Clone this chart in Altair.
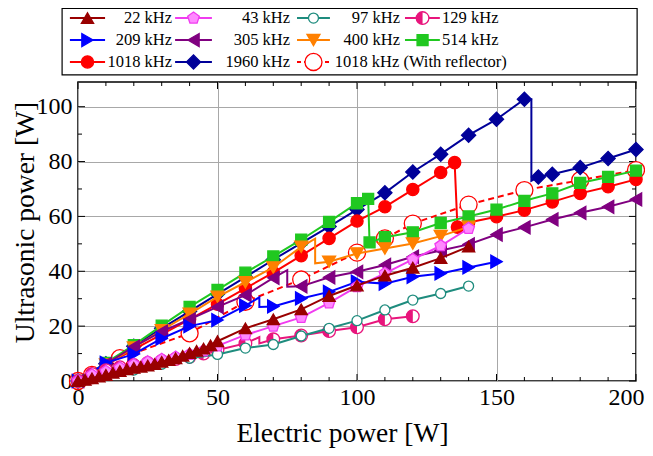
import altair as alt
import pandas as pd

# ---------------- data ----------------
names = ["22 kHz", "43 kHz", "97 kHz", "129 kHz", "209 kHz", "305 kHz",
         "400 kHz", "514 kHz", "1018 kHz", "1960 kHz", "1018 kHz (With reflector)"]

w22 = [0, 2.5, 5, 7.5, 10, 12.5, 15, 17.5, 20, 22.5, 25, 27.5, 30, 32.5, 35, 37.5, 40, 42.5,
       45, 47.5, 50, 60, 70, 80, 90, 100, 110, 120, 130, 140]
p22 = [0, 0.4, 1.0, 1.6, 2.2, 3.0, 3.6, 4.3, 4.8, 5.2, 5.6, 6.2, 7.0, 7.6, 8.3, 9.2, 10.2, 11.0,
       11.8, 13.0, 14.5, 19.2, 22.5, 26.1, 31.0, 34.8, 38.4, 41.3, 44.8, 49.0]
j22 = []

w43 = [0, 5, 10, 15, 20, 25, 30, 35, 40, 45, 50, 60, 70, 80, 90, 100, 110, 120, 130, 140]
p43 = [0, 2.2, 3.5, 4.8, 6.0, 7.0, 7.9, 8.7, 9.7, 11.0, 12.8, 16.8, 20.0, 23.2, 28.5, 34.4,
       39.2, 44.3, 49.3, 55.6]
j43 = []

w97 = [0, 10, 20, 30, 40, 50, 60, 70, 80, 90, 100, 110, 120, 130, 140]
p97 = [0, 2.2, 4.0, 6.1, 8.3, 9.7, 12.0, 13.3, 16.4, 19.2, 22.0, 25.9, 29.5, 31.9, 34.6]
j97 = []

w129 = [0, 5, 10, 15, 20, 25, 30, 35, 40, 45, 50, 60, 65, 65, 70, 80, 90, 100, 110, 120]
p129 = [0, 2.6, 3.9, 5.0, 5.8, 6.6, 7.3, 8.0, 8.8, 10.0, 11.3, 13.7, 16.0, 13.7, 15.2, 16.6,
        18.2, 19.6, 22.5, 23.6]
j129 = [12, 13]

w209 = [0, 10, 20, 30, 40, 50, 60, 65, 65, 70, 80, 90, 100, 110, 120, 130, 140, 150]
p209 = [0, 6.6, 9.8, 15.5, 20.0, 22.2, 27.5, 30.5, 27.0, 27.2, 30.1, 32.5, 36.2, 35.5, 38.0,
        39.2, 41.4, 43.5]
j209 = [7, 8]

w305 = [0, 10, 20, 30, 40, 50, 60, 70, 75, 75, 80, 90, 100, 110, 120, 130, 140, 150, 160,
        170, 180, 190, 200]
p305 = [0, 6.2, 12.5, 18.0, 22.5, 27.0, 31.3, 37.6, 40.4, 34.4, 34.5, 37.8, 39.8, 42.3, 45.3,
        47.6, 49.8, 53.4, 56.0, 58.9, 61.3, 63.5, 66.2]
j305 = [8, 9]

w400 = [0, 10, 20, 30, 40, 50, 60, 70, 80, 85, 85, 90, 100, 110, 120, 130, 140]
p400 = [0, 6.0, 12.2, 18.5, 24.5, 30.7, 36.0, 41.4, 48.9, 51.9, 42.9, 43.5, 46.5, 48.3, 50.1,
        52.8, 56.2]
j400 = [9, 10]

w514 = [0, 10, 20, 30, 40, 50, 60, 70, 80, 90, 100, 104, 104.5, 110, 120, 130, 140, 150, 160,
        170, 180, 190, 200]
p514 = [0, 6.6, 13.1, 20.2, 27.0, 33.2, 39.5, 45.4, 51.5, 58.0, 64.8, 66.4, 50.5, 52.4, 54.2,
        57.6, 60.0, 62.5, 65.7, 68.4, 72.2, 74.4, 76.7]
j514 = []

w1018 = [0, 10, 20, 30, 40, 50, 60, 70, 80, 90, 100, 110, 120, 130, 135, 136, 140, 150, 160,
         170, 180, 190, 200]
p1018 = [0, 5.8, 11.5, 17.0, 22.5, 28.0, 33.8, 39.5, 45.7, 52.0, 58.3, 63.5, 69.8, 76.0, 79.6,
         56.1, 57.8, 59.9, 62.3, 65.3, 68.4, 70.8, 73.5]
j1018 = []

w1960 = [0, 10, 20, 30, 40, 50, 60, 70, 80, 90, 100, 110, 120, 130, 140, 150, 160, 162.5,
         162.5, 165, 170, 180, 190, 200]
p1960 = [0, 6.3, 12.7, 19.2, 25.4, 31.7, 37.9, 44.2, 50.3, 56.3, 62.5, 68.6, 76.2, 82.7, 89.6,
         95.4, 102.7, 102.7, 73.0, 74.4, 75.4, 77.8, 81.1, 84.4]
j1960 = [17, 18]

wref = [0, 5, 15, 40, 60, 80, 100, 110, 120, 140, 160, 180, 200]
pref = [0, 2.2, 8.3, 17.4, 28.9, 37.0, 46.8, 52.0, 57.4, 64.3, 69.6, 73.2, 76.9]
jref = []

# axis ticks
x_major = [0, 50, 100, 150, 200]
x_minor = [10, 20, 30, 40, 60, 70, 80, 90, 110, 120, 130, 140, 160, 170, 180, 190]
y_major = [0, 20, 40, 60, 80, 100]
y_minor = [10, 30, 50, 70, 90]

# legend layout (in data units of the chart scales, legend sits above the plot)
leg_rows = [132.3, 124.3, 116.3]
leg_sym = [(-2.9, 9.7, 3.4), (34.8, 48.0, 41.4), (78.5, 90.3, 84.4), (117.2, 129.7, 123.5)]
leg_lab = [(33.7, "right"), (76.0, "right"), (115.4, "right"), (130.5, "left")]
leg_box = (-5.7, 200.4, 111.6, 135.8)

# ---------------- styles ----------------
FONT = "Liberation Serif"
W_PX, H_PX = 558, 299
PENTAGON = "M0,-1L0.951,-0.309L0.588,0.809L-0.588,0.809L-0.951,-0.309Z"
HALF = "M0,-1A1,1 0 0 0 0,1Z"

style = {
    "22 kHz":   dict(w=w22, p=p22, j=j22, c="#990000", shape="triangle-up", fill="#990000", size=150, cell=(0, 0)),
    "43 kHz":   dict(w=w43, p=p43, j=j43, c="#F03CF0", shape=PENTAGON, fill="#FF88FF", size=150, cell=(1, 0)),
    "97 kHz":   dict(w=w97, p=p97, j=j97, c="#1E8C7E", shape="circle", fill="white", size=100, cell=(2, 0)),
    "129 kHz":  dict(w=w129, p=p129, j=j129, c="#E8157C", shape="circle", fill="white", size=160, cell=(3, 0), half=True),
    "209 kHz":  dict(w=w209, p=p209, j=j209, c="#0000FF", shape="triangle-right", fill="#0000FF", size=170, cell=(0, 1)),
    "305 kHz":  dict(w=w305, p=p305, j=j305, c="#800080", shape="triangle-left", fill="#800080", size=170, cell=(1, 1)),
    "400 kHz":  dict(w=w400, p=p400, j=j400, c="#FF8000", shape="triangle-down", fill="#FF8000", size=170, cell=(2, 1)),
    "514 kHz":  dict(w=w514, p=p514, j=j514, c="#20C820", shape="square", fill="#20C820", size=121, cell=(3, 1)),
    "1018 kHz": dict(w=w1018, p=p1018, j=j1018, c="#FF0000", shape="circle", fill="#FF0000", size=150, cell=(0, 2)),
    "1960 kHz": dict(w=w1960, p=p1960, j=j1960, c="#000099", shape="diamond", fill="#000099", size=200, cell=(1, 2)),
    "1018 kHz (With reflector)": dict(w=wref, p=pref, j=jref, c="#FF0000", shape="circle", fill="white",
                                      size=290, cell=(2, 2), dash=[6, 4], lab=(92.0, "left")),
}
draw_order = ["1018 kHz (With reflector)", "1960 kHz", "1018 kHz", "514 kHz", "400 kHz",
              "305 kHz", "209 kHz", "129 kHz", "97 kHz", "43 kHz", "22 kHz"]

xs = alt.Scale(domain=[0, 200], nice=False, zero=False)
ys = alt.Scale(domain=[0, 109], nice=False, zero=False)
common_axis = dict(ticks=False, domain=False, grid=True, gridColor="#a8a8a8", gridWidth=1,
                   labelFont=FONT, labelFontSize=24, labelColor="black", labelFlush=False,
                   labelOverlap=False, titleFont=FONT, titleFontSize=27.5, titleFontWeight="normal",
                   titleColor="black")
xaxis = alt.Axis(values=x_major, labelPadding=4, titlePadding=10, titleX=264,
                 labelAlign={"condition": {"test": "datum.value >= 200", "value": "right"}, "value": "center"},
                 labelOffset={"condition": {"test": "datum.value >= 200", "value": 8}, "value": 0},
                 **common_axis)
yaxis = alt.Axis(values=y_major, labelPadding=6, titlePadding=-3, titleY=140, **common_axis)
X = alt.X("W:Q", scale=xs, axis=xaxis, title="Electric power [W]")
Y = alt.Y("P:Q", scale=ys, axis=yaxis, title="Ultrasonic power [W]")
X2 = alt.X2("W2:Q")
Y2 = alt.Y2("P2:Q")


def point_layer(df, st):
    layers = [alt.Chart(df).mark_point(shape=st["shape"], filled=True, fill=st["fill"], stroke=st["c"],
                                        strokeWidth=1.3, size=st["size"], opacity=1).encode(x=X, y=Y)]
    if st.get("half"):
        layers.append(alt.Chart(df).mark_point(shape=HALF, filled=True, fill=st["c"], strokeWidth=0,
                                               size=st["size"], opacity=1).encode(x=X, y=Y))
    return layers


layers = []

# inward ticks on all four sides
for vals, L in ((x_major, 7), (x_minor, 4)):
    d = pd.DataFrame({"W": vals})
    layers.append(alt.Chart(d).mark_rule(color="black", strokeWidth=1).encode(
        x=X, y=alt.value(H_PX), y2=alt.value(H_PX - L)))
    layers.append(alt.Chart(d).mark_rule(color="black", strokeWidth=1).encode(
        x=X, y=alt.value(0), y2=alt.value(L)))
for vals, L in ((y_major, 7), (y_minor, 4)):
    d = pd.DataFrame({"P": vals})
    layers.append(alt.Chart(d).mark_rule(color="black", strokeWidth=1).encode(
        y=Y, x=alt.value(0), x2=alt.value(L)))
    layers.append(alt.Chart(d).mark_rule(color="black", strokeWidth=1).encode(
        y=Y, x=alt.value(W_PX - L), x2=alt.value(W_PX)))

# series
for name in draw_order:
    st = style[name]
    flags = [0 if i in st["j"] else 1 for i in range(len(st["w"]))]
    df = pd.DataFrame({"W": st["w"], "P": st["p"], "i": list(range(len(st["w"]))), "m": flags})
    lk = dict(color=st["c"], strokeWidth=2)
    if "dash" in st:
        lk["strokeDash"] = st["dash"]
    layers.append(alt.Chart(df).mark_line(**lk).encode(x=X, y=Y, order=alt.Order("i:Q")))
    layers += point_layer(df[df["m"] == 1], st)

# legend box
bx = pd.DataFrame({"W": [leg_box[0]], "W2": [leg_box[1]], "P": [leg_box[2]], "P2": [leg_box[3]]})
layers.append(alt.Chart(bx).mark_rect(fill="white", stroke="black", strokeWidth=1.2).encode(
    x=X, x2=X2, y=Y, y2=Y2))

# legend entries
for name in names:
    st = style[name]
    col, row = st["cell"]
    x1, x2, cx = leg_sym[col]
    yy = leg_rows[row]
    if "dash" in st:
        x2 = x2 + 0.7
    lk = dict(color=st["c"], strokeWidth=2)
    if "dash" in st:
        lk["strokeDash"] = [4, 3]
    layers.append(alt.Chart(pd.DataFrame({"W": [x1], "W2": [x2], "P": [yy]})).mark_rule(**lk).encode(
        x=X, x2=X2, y=Y))
    layers += point_layer(pd.DataFrame({"W": [cx], "P": [yy]}), st)
    lx, al = st.get("lab", leg_lab[col])
    layers.append(alt.Chart(pd.DataFrame({"W": [lx], "P": [yy], "t": [name]})).mark_text(
        align=al, baseline="middle", font=FONT, fontSize=16.5, color="black").encode(
        x=X, y=Y, text="t:N"))

chart = alt.layer(*layers).properties(
    width=W_PX, height=H_PX,
    autosize=alt.AutoSizeParams(type="none"),
    padding={"left": 70, "top": 74, "right": 9, "bottom": 67},
).configure_view(stroke="black", strokeWidth=1.5)

chart.save("out.html", embed_options={"renderer": "svg", "actions": False})
